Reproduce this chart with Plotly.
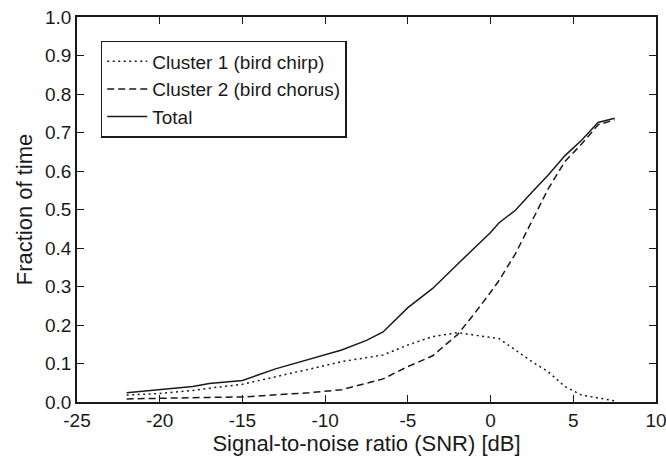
import plotly.graph_objects as go

snr = [-22, -20, -18, -17, -15, -13, -11, -9, -7.5, -6.5, -5, -3.5, -2, -1, 0, 0.5, 1.5, 2.5, 3.5, 4.5, 5.5, 6.5, 7.5]
cluster1 = [0.018, 0.022, 0.030, 0.036, 0.046, 0.065, 0.085, 0.105, 0.115, 0.122, 0.148, 0.170, 0.180, 0.174, 0.168, 0.165, 0.135, 0.105, 0.078, 0.040, 0.018, 0.010, 0.003]
cluster2 = [0.008, 0.010, 0.011, 0.012, 0.013, 0.018, 0.024, 0.032, 0.048, 0.060, 0.092, 0.120, 0.175, 0.228, 0.285, 0.315, 0.385, 0.470, 0.555, 0.625, 0.670, 0.720, 0.733]
total = [0.024, 0.032, 0.040, 0.048, 0.056, 0.086, 0.110, 0.135, 0.160, 0.182, 0.245, 0.295, 0.358, 0.400, 0.440, 0.465, 0.498, 0.545, 0.590, 0.640, 0.680, 0.726, 0.737]
names = ["Cluster 1 (bird chirp)", "Cluster 2 (bird chorus)", "Total"]
x_ticks = [-25, -20, -15, -10, -5, 0, 5, 10]
y_ticks = [0.0, 0.1, 0.2, 0.3, 0.4, 0.5, 0.6, 0.7, 0.8, 0.9, 1.0]

FONT = "Liberation Sans, Arial, sans-serif"
INK = "#1a1a1a"
fig = go.Figure()
for ys, name, dash in [(cluster1, names[0], "2px,3.5px"), (cluster2, names[1], "7px,4px"), (total, names[2], "solid")]:
    fig.add_trace(go.Scatter(x=snr, y=ys, mode="lines", name=name,
                             line=dict(color=INK, width=1.5, dash=dash)))

axis_common = dict(showline=True, linecolor=INK, linewidth=1.5, mirror="ticks",
                   ticks="inside", ticklen=7, tickcolor=INK, tickwidth=1.3,
                   showgrid=False, zeroline=False, automargin=False,
                   ticklabeloverflow="allow",
                   tickfont=dict(family=FONT, size=19, color=INK))
fig.update_xaxes(range=[-25, 10], tickvals=x_ticks, ticktext=[str(v) for v in x_ticks],
                 title=dict(text="Signal-to-noise ratio (SNR) [dB]", font=dict(family=FONT, size=22, color=INK), standoff=4),
                 **axis_common)
fig.update_yaxes(range=[0, 1], tickvals=y_ticks, tickformat=".1f",
                 title=dict(text="Fraction of time", font=dict(family=FONT, size=22, color=INK), standoff=6),
                 **axis_common)
fig.update_layout(width=666, height=457, margin=dict(l=77, r=10, t=17, b=55, autoexpand=False),
                  plot_bgcolor="white", paper_bgcolor="white",
                  font=dict(family=FONT, color=INK),
                  legend=dict(x=0.041, y=0.938, xanchor="left", yanchor="top",
                              bordercolor=INK, borderwidth=1.5, bgcolor="white",
                              font=dict(family=FONT, size=19, color=INK),
                              tracegroupgap=0, itemwidth=40),
                  showlegend=True)
fig.write_html("out.html", config={"displayModeBar": False},
               post_script="document.body.style.margin='0';document.body.style.overflow='hidden';")
